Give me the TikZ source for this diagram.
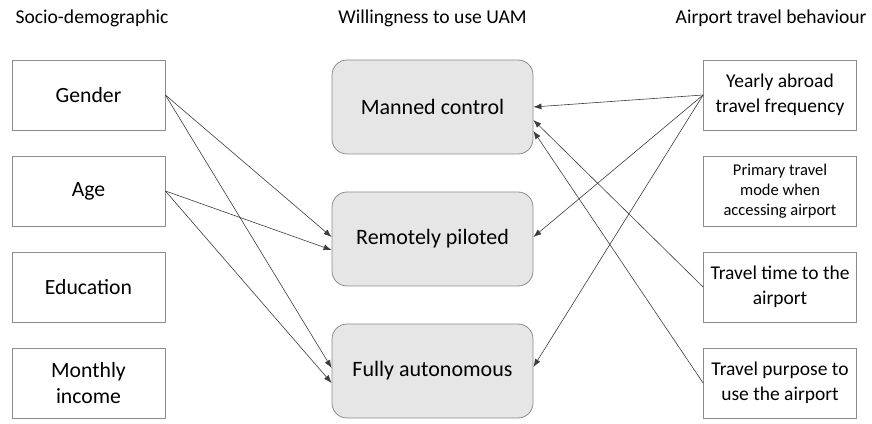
\documentclass[tikz,border=0pt]{standalone}
\usepackage{fontspec}
\setmainfont{Carlito}
\usetikzlibrary{arrows.meta}

\definecolor{boxgray}{HTML}{E6E6E6}
\definecolor{edgegray}{HTML}{8C8C8C}
\definecolor{linegray}{HTML}{3C3C3C}

\begin{document}
\begin{tikzpicture}[x=1pt,y=1pt,
        factor/.style={draw=edgegray,line width=0.8pt,minimum width=153pt,minimum height=70pt,
            align=center,font=\fontsize{21.7}{26}\selectfont},
        travel/.style={factor,font=\fontsize{19.5}{25}\selectfont},
        uam/.style={draw=edgegray,line width=0.8pt,fill=boxgray,rounded corners=15pt,
            minimum width=201pt,minimum height=94pt,font=\fontsize{22}{26}\selectfont},
        header/.style={font=\fontsize{19.6}{24}\selectfont},
        >={Latex[length=8pt,width=6pt]},
        link/.style={->,draw=linegray,line width=0.6pt}
    ]
    \useasboundingbox (0,0) rectangle (872,423);
    % column headers
    \node[header,anchor=base west] (hsocio) at (12,399) {Socio-demographic};
    \node[header,anchor=base] (huam) at (432.5,399) {Willingness to use UAM};
    \node[header,anchor=base east] (hair) at (870,399) {Airport travel behaviour};
    % socio-demographic factors
    \node[factor] (gender) at (88.5,328) {Gender};
    \node[factor] (age) at (88.5,232) {Age};
    \node[factor] (edu) at (88.5,136) {Education};
    \node[factor] (income) at (88.5,40) {Monthly\\income};
    % willingness to use UAM
    \node[uam] (manned) at (432.5,316) {Manned control};
    \node[uam] (remote) at (432.5,184) {Remotely piloted};
    \node[uam] (auto) at (432.5,52) {Fully autonomous};
    % airport travel behaviour
    \node[travel] (yearly) at (780,328) {Yearly abroad\\travel frequency};
    \node[travel,font=\fontsize{16.5}{20}\selectfont] (mode) at (780,232) {Primary travel\\mode when\\accessing airport};
    \node[travel] (ttime) at (780,136) {Travel time to the\\airport};
    \node[travel] (purpose) at (780,40) {Travel purpose to\\use the airport};
    % links
    \draw[link] (gender.east) -- ([yshift=2pt]remote.west);
    \draw[link] (gender.east) -- ([yshift=3pt]auto.west);
    \draw[link] (age.east) -- ([yshift=-11pt]remote.west);
    \draw[link] (age.east) -- ([yshift=-12pt]auto.west);
    \draw[link] (yearly.west) -- (manned.east);
    \draw[link] (yearly.west) -- ([yshift=2pt]remote.east);
    \draw[link] (yearly.west) -- ([yshift=4pt]auto.east);
    \draw[link] (ttime.west) -- ([yshift=-13pt]manned.east);
    \draw[link] (purpose.west) -- ([yshift=-24pt]manned.east);
\end{tikzpicture}
\end{document}
